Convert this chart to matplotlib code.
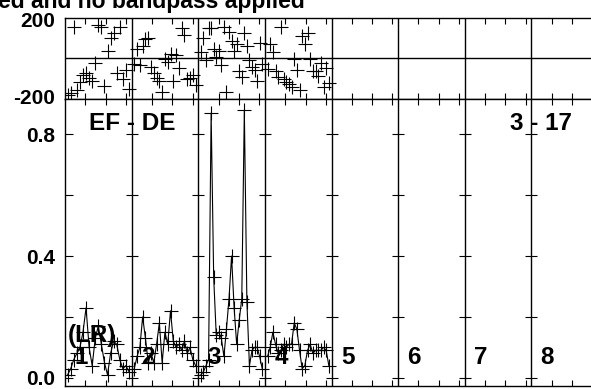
"""Baseline amplitude / phase panels (IDL-style reproduction)
"""
import numpy as np
import matplotlib
matplotlib.use("Agg")
import matplotlib.pyplot as plt

plt.rcParams["font.family"] = ["Liberation Sans", "DejaVu Sans"]
plt.rcParams["font.weight"] = "bold"

# Amplitude per channel, one list per baseline panel.
amp_1 = [0.01, 0.03, 0.06, 0.08, 0.10, 0.15, 0.23, 0.10, 0.04, 0.13, 0.17,
         0.11, 0.05, 0.01, 0.08, 0.12, 0.11, 0.06, 0.03, 0.04, 0.02]
amp_2 = [0.03, 0.07, 0.10, 0.20, 0.13, 0.05, 0.08, 0.05, 0.11, 0.18, 0.05, 0.15,
         0.11, 0.22, 0.12, 0.10, 0.11, 0.09, 0.12, 0.08, 0.10, 0.06, 0.04]
amp_3 = [0.01, 0.02, 0.04, 0.06, 0.87, 0.33, 0.14, 0.15, 0.13, 0.07, 0.16, 0.26,
         0.40, 0.23, 0.11, 0.19, 0.26, 0.88, 0.25, 0.04, 0.09, 0.10, 0.10, 0.07, 0.03]
amp_4 = [0.07, 0.10, 0.15, 0.11, 0.08, 0.09, 0.11, 0.10, 0.11, 0.11, 0.18, 0.16,
         0.09, 0.03, 0.04, 0.09, 0.11, 0.08, 0.09, 0.09, 0.09, 0.10, 0.09, 0.04]

# Phase (degrees) per channel.
ph_1 = [-195, -185, 160, -170, -125, -90, -78, -105, -120, -28, 172,
        163, -145, 38, 105, 130, -78, 163, -112, -62, -162]
ph_2 = [-30, 47, -37, 63, 97, 105, -45, -78, -103, -120, -178, -3,
        -20, 22, -120, 13, -53, 155, 122, -112, -103, -90, -140]
ph_3 = [30, 105, -10, 155, 155, 47, 5, 38, -37, 160, -178, 138,
        88, 38, 72, -70, -100, 130, 63, -12, -45, -62, -120, 80, -30]
ph_4 = [-60, 72, 30, -70, -100, 163, -112, -128, -137, -150, -3, -62,
        -170, 113, 72, 130, -3, -70, -70, -95, -28, -150, -50, -130]

amps = [amp_1, amp_2, amp_3, amp_4]
phases = [ph_1, ph_2, ph_3, ph_4]
panel_labels = ["1", "2", "3", "4", "5", "6", "7", "8"]
n_panels = 8

amp_ticks = [0.0, 0.2, 0.4, 0.6, 0.8]
amp_ticklabels = ["0.0", "", "0.4", "", "0.8"]
phase_ticks = [-200, 200]


W, H = 591, 389
def rect(l, t, r, b):
    return [l / W, 1 - b / H, (r - l) / W, (b - t) / H]

fig = plt.figure(figsize=(W / 100, H / 100), dpi=100)
ax_ph = fig.add_axes(rect(65, 17.5, 598, 99))
ax_amp = fig.add_axes(rect(65, 99, 598, 386))

MARK = dict(marker="+", ms=10, mew=0.8, color="black")
xtick_pos = [k + f for k in range(n_panels) for f in (0.305, 0.61, 0.915)]

for k, (amp, ph) in enumerate(zip(amps, phases)):
    x = k + np.linspace(0.04, 0.96, len(amp))
    ax_amp.plot(x, amp, lw=0.8, **MARK)
    ax_ph.plot(x, ph, ls="none", **MARK)

for ax in (ax_ph, ax_amp):
    ax.set_xlim(0, n_panels)
    for k in range(1, n_panels):
        ax.axvline(k, color="black", lw=1)
    ax.set_xticks(xtick_pos)
    ax.set_xticklabels([])
    ax.tick_params(axis="x", direction="in", top=True, length=4, width=0.8)
    ax.tick_params(axis="y", labelsize=15, pad=7)
    for sp in ax.spines.values():
        sp.set_linewidth(1)

# Phase panel
ax_ph.set_ylim(-215, 212)
ax_ph.axhline(0, color="black", lw=1)
ax_ph.set_yticks(phase_ticks)
ax_ph.set_yticklabels([str(t) for t in phase_ticks])
ax_ph.tick_params(axis="y", direction="in", length=0)

# Amplitude panel
ax_amp.set_ylim(-0.027, 0.916)
ax_amp.set_yticks(amp_ticks)
ax_amp.set_yticklabels(amp_ticklabels)
ax_amp.tick_params(axis="y", direction="in", length=6, width=0.8)
for k in range(1, n_panels):
    ax_amp.plot([k] * len(amp_ticks), amp_ticks, ls="none",
                marker="_", ms=8, mew=0.8, color="black")

TXT = dict(fontsize=17.5, fontweight="bold", va="center")
for k, lab in enumerate(panel_labels):
    ax_amp.text(k + 0.14, 0.068, lab, ha="left", **TXT)
ax_amp.text(0.045, 0.14, "(LR)", ha="left", **TXT)
ax_amp.text(0.36, 0.834, "EF - DE", ha="left", **TXT)
ax_amp.text(6.68, 0.834, "3 - 17", ha="left", **TXT)

fig.text(-0.003, 1 - 8 / H, "ed and no bandpass applied", ha="left",
         va="baseline", fontsize=16.5, fontweight="bold")

plt.savefig("out.png", dpi=100)
plt.close()
